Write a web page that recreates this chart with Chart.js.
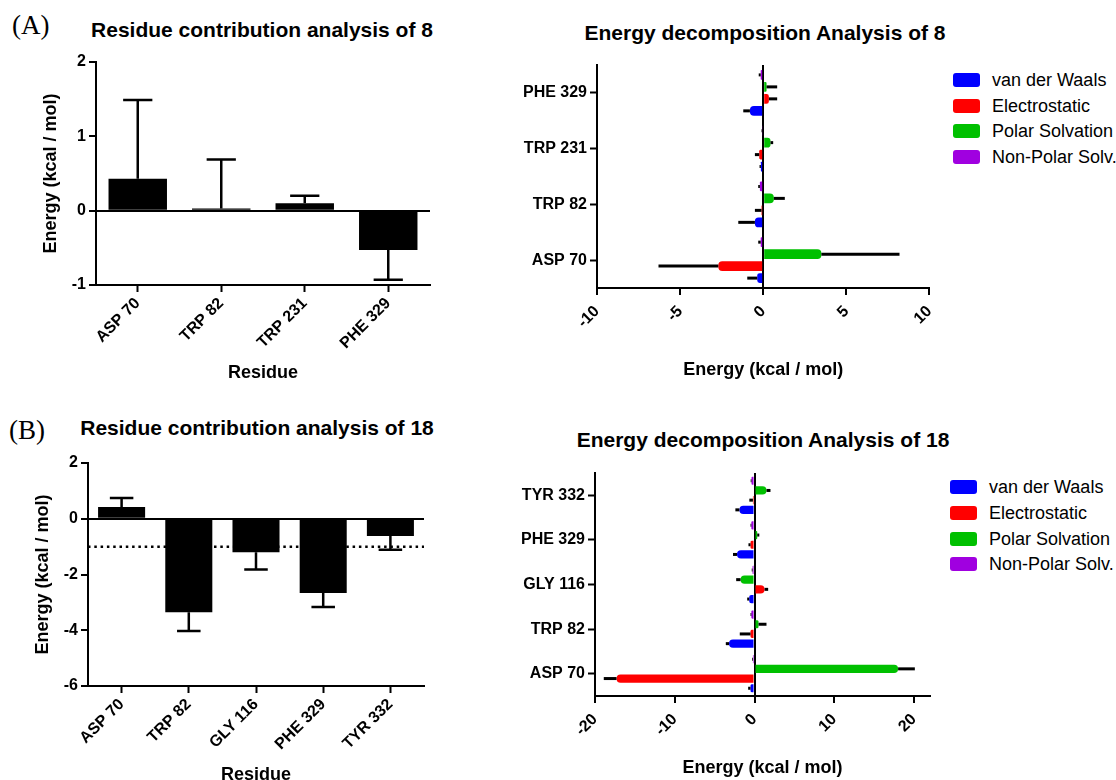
<!DOCTYPE html>
<html lang="en">
<head>
  <meta charset="UTF-8">
  <title>Residue contribution and energy decomposition of 8 and 18</title>
  <script src="https://cdn.jsdelivr.net/npm/chart.js"></script>
  <style>
    body { margin: 0; background: #fff; width: 1116px; height: 780px; overflow: hidden; position: relative;
           font-family: "Liberation Sans", Arial, sans-serif; color: #000; }
    canvas { position: absolute; }
    .panel { position: absolute; font-family: "Liberation Serif", "Times New Roman", serif; font-size: 27px; line-height: 1; }
    .title { position: absolute; font-weight: bold; font-size: 21px; line-height: 1.15; white-space: nowrap; transform: translate(-50%, -50%); }
    .legend-row { position: absolute; display: flex; align-items: center; height: 20px; font-size: 18px; white-space: nowrap; }
    .legend-row span.sw { display: inline-block; width: 27px; height: 14px; border-radius: 3px; margin-right: 12px; }
  </style>
</head>
<body>
  <div class="panel" style="left:12px; top:12px;">(A)</div>
  <div class="title" style="left:262px; top:30px;">Residue contribution analysis of 8</div>
  <div class="title" style="left:765px; top:33px;">Energy decomposition Analysis of 8</div>
  <div class="panel" style="left:9px; top:417px;">(B)</div>
  <div class="title" style="left:257px; top:428px;">Residue contribution analysis of 18</div>
  <div class="title" style="left:763px; top:440px;">Energy decomposition Analysis of 18</div>
  <div id="legendA"></div>
  <div id="legendB"></div>

  <canvas id="totalA" width="460" height="360" style="left:0; top:40px;"></canvas>
  <canvas id="decompA" width="470" height="350" style="left:480px; top:40px;"></canvas>
  <canvas id="totalB" width="460" height="346" style="left:0; top:440px;"></canvas>
  <canvas id="decompB" width="470" height="340" style="left:480px; top:440px;"></canvas>

  <script>
    // ---- data ----
    const residuesA = ['ASP 70', 'TRP 82', 'TRP 231', 'PHE 329'];
    const totalA = [0.43, 0.03, 0.10, -0.53];
    const totalErrA = [1.06, 0.66, 0.10, 0.40];

    const residuesB = ['ASP 70', 'TRP 82', 'GLY 116', 'PHE 329', 'TYR 332'];
    const totalB = [0.42, -3.35, -1.20, -2.66, -0.62];
    const totalErrB = [0.32, 0.68, 0.62, 0.51, 0.49];

    const termNames = ['van der Waals', 'Electrostatic', 'Polar Solvation', 'Non-Polar Solv.'];
    const termColors = ['#0000ff', '#ff0000', '#00c000', '#a000e0'];

    // compound 8, order of residuesA
    const vdwA = [-0.36, -0.50, -0.14, -0.80];
    const elecA = [-2.70, -0.10, -0.24, 0.34];
    const polarA = [3.50, 0.64, 0.44, 0.20];
    const nonpolarA = [-0.15, -0.20, -0.05, -0.15];
    const vdwErrA = [0.60, 1.00, 0.08, 0.40];
    const elecErrA = [3.60, 0.40, 0.26, 0.50];
    const polarErrA = [4.70, 0.66, 0.16, 0.64];
    const nonpolarErrA = [0.15, 0.10, 0.05, 0.12];

    // compound 18, order of residuesB
    const vdwB = [-0.50, -3.20, -0.67, -2.20, -1.90];
    const elecB = [-17.3, -0.50, 1.26, -0.50, -0.20];
    const polarB = [18.0, 0.50, -1.75, 0.34, 1.50];
    const nonpolarB = [-0.20, -0.40, -0.25, -0.40, -0.38];
    const vdwErrB = [0.30, 0.40, 0.25, 0.50, 0.50];
    const elecErrB = [1.60, 1.35, 0.45, 0.26, 0.45];
    const polarErrB = [2.10, 1.00, 0.55, 0.26, 0.50];
    const nonpolarErrB = [0.10, 0.10, 0.10, 0.10, 0.10];

    Chart.defaults.font.family = '"Liberation Sans", Arial, sans-serif';
    Chart.defaults.color = '#000';
    Chart.defaults.animation = false;

    // error bars drawn away from zero, using the chart's value scale
    const errorBars = {
      id: 'errorBars',
      afterDatasetsDraw(chart, args, opts) {
        if (!opts.errors) return;
        const ctx = chart.ctx;
        const horiz = chart.options.indexAxis === 'y';
        const vScale = horiz ? chart.scales.x : chart.scales.y;
        ctx.save();
        ctx.strokeStyle = '#000';
        ctx.lineWidth = opts.width;
        chart.data.datasets.forEach((ds, i) => {
          chart.getDatasetMeta(i).data.forEach((bar, j) => {
            const v = ds.data[j];
            const e = opts.errors[i][j];
            const p0 = vScale.getPixelForValue(v);
            const p1 = vScale.getPixelForValue(v < 0 ? v - e : v + e);
            ctx.beginPath();
            if (horiz) {
              ctx.moveTo(p0, bar.y); ctx.lineTo(p1, bar.y);
            } else {
              const half = bar.width * opts.cap / 2;
              ctx.moveTo(bar.x, p0); ctx.lineTo(bar.x, p1);
              ctx.moveTo(bar.x - half, p1); ctx.lineTo(bar.x + half, p1);
            }
            ctx.stroke();
          });
        });
        ctx.restore();
      }
    };

    // dotted reference line
    const refLine = {
      id: 'refLine',
      beforeDatasetsDraw(chart, args, opts) {
        if (opts.value === undefined) return;
        const ctx = chart.ctx;
        const y = chart.scales.y.getPixelForValue(opts.value);
        ctx.save();
        ctx.strokeStyle = '#000';
        ctx.lineWidth = 2.5;
        ctx.setLineDash([2.5, 3.8]);
        ctx.beginPath();
        ctx.moveTo(chart.chartArea.left, y);
        ctx.lineTo(chart.chartArea.right, y);
        ctx.stroke();
        ctx.restore();
      }
    };

    const tickFont = { size: 16, weight: 'bold' };
    const titleFont = { size: 18, weight: 'bold' };
    const zeroGrid = {
      color: c => (c.tick && c.tick.value === 0 ? '#000' : 'transparent'),
      lineWidth: 2, tickColor: '#000', tickWidth: 2, tickLength: 7
    };
    const catGrid = { drawOnChartArea: false, offset: false, tickColor: '#000', tickWidth: 2, tickLength: 7 };
    const axisBorder = { color: '#000', width: 2 };

    function totalChart(id, labels, values, errs, yMin, yMax, step, w, pad, xTitlePad, yTitlePad, extra) {
      return new Chart(document.getElementById(id), {
        type: 'bar',
        data: {
          labels: labels,
          datasets: [{ data: values, backgroundColor: '#000', barPercentage: 0.7, categoryPercentage: 1 }]
        },
        plugins: [errorBars, refLine],
        options: {
          responsive: false,
          devicePixelRatio: 1,
          layout: { padding: pad },
          plugins: {
            legend: { display: false },
            tooltip: { enabled: false },
            errorBars: { errors: [errs], width: 2.5, cap: 0.5 },
            refLine: extra
          },
          scales: {
            x: {
              grid: catGrid, border: axisBorder,
              ticks: { font: tickFont, minRotation: 45, maxRotation: 45, autoSkip: false, padding: 2 },
              title: { display: true, text: 'Residue', font: titleFont, padding: { top: 0, bottom: xTitlePad } },
              afterFit: s => { s.height = w.xh; }
            },
            y: {
              min: yMin, max: yMax,
              grid: zeroGrid, border: axisBorder,
              ticks: { font: tickFont, stepSize: step, padding: 3 },
              title: { display: true, text: 'Energy (kcal / mol)', font: titleFont, padding: { top: yTitlePad, bottom: 0 } },
              afterFit: s => { s.width = w.yw; }
            }
          }
        }
      });
    }

    // terms listed top-to-bottom within each residue group
    const groupOrder = [3, 2, 1, 0];

    function decompChart(id, labels, series, errs, xMin, xMax, step, w, pad, xTitlePad, bar) {
      return new Chart(document.getElementById(id), {
        type: 'bar',
        data: {
          labels: labels,
          datasets: groupOrder.map(k => ({
            label: termNames[k], data: series[k], backgroundColor: termColors[k],
            barPercentage: bar.bp, categoryPercentage: bar.cp, borderRadius: 4, borderSkipped: 'start'
          }))
        },
        plugins: [errorBars],
        options: {
          indexAxis: 'y',
          responsive: false,
          devicePixelRatio: 1,
          layout: { padding: pad },
          plugins: {
            legend: { display: false },
            tooltip: { enabled: false },
            errorBars: { errors: groupOrder.map(k => errs[k]), width: 3 }
          },
          scales: {
            y: {
              reverse: true,
              grid: catGrid, border: axisBorder,
              ticks: { font: tickFont, padding: 3 },
              afterFit: s => { s.width = w.yw; }
            },
            x: {
              min: xMin, max: xMax,
              grid: zeroGrid, border: axisBorder,
              ticks: { font: tickFont, stepSize: step, includeBounds: false, minRotation: 45, maxRotation: 45, padding: 7 },
              title: { display: true, text: 'Energy (kcal / mol)', font: titleFont, padding: { top: 0, bottom: xTitlePad } },
              afterFit: s => { s.height = w.xh; }
            }
          }
        }
      });
    }

    totalChart('totalA', residuesA, totalA, totalErrA, -1, 2, 1,
      { yw: 96, xh: 115 }, { top: 22, right: 30, left: 0, bottom: 0 }, 16, 40, {});
    totalChart('totalB', residuesB, totalB, totalErrB, -6, 2, 2,
      { yw: 88, xh: 100 }, { top: 23, right: 36, left: 0, bottom: 0 }, 0, 32, { value: -1 });

    decompChart('decompA', residuesA,
      [vdwA, elecA, polarA, nonpolarA],
      [vdwErrA, elecErrA, polarErrA, nonpolarErrA],
      -10, 10, 5, { yw: 117, xh: 102 }, { top: 25, right: 19, left: 0, bottom: 0 }, 9, { bp: 0.83, cp: 0.86 });
    decompChart('decompB', residuesB,
      [vdwB, elecB, polarB, nonpolarB],
      [vdwErrB, elecErrB, polarErrB, nonpolarErrB],
      -20, 22, 10, { yw: 115, xh: 84 }, { top: 33, right: 20, left: 0, bottom: 0 }, 1, { bp: 0.85, cp: 0.87 });

    // legends
    function legend(id, left, centers) {
      const host = document.getElementById(id);
      termNames.forEach((name, i) => {
        const row = document.createElement('div');
        row.className = 'legend-row';
        row.style.left = left + 'px';
        row.style.top = (centers[i] - 10) + 'px';
        row.innerHTML = '<span class="sw" style="background:' + termColors[i] + '"></span>' + name;
        host.appendChild(row);
      });
    }
    legend('legendA', 953, [80, 106, 131, 157]);
    legend('legendB', 950, [487, 513, 539, 564]);
  </script>
</body>
</html>
